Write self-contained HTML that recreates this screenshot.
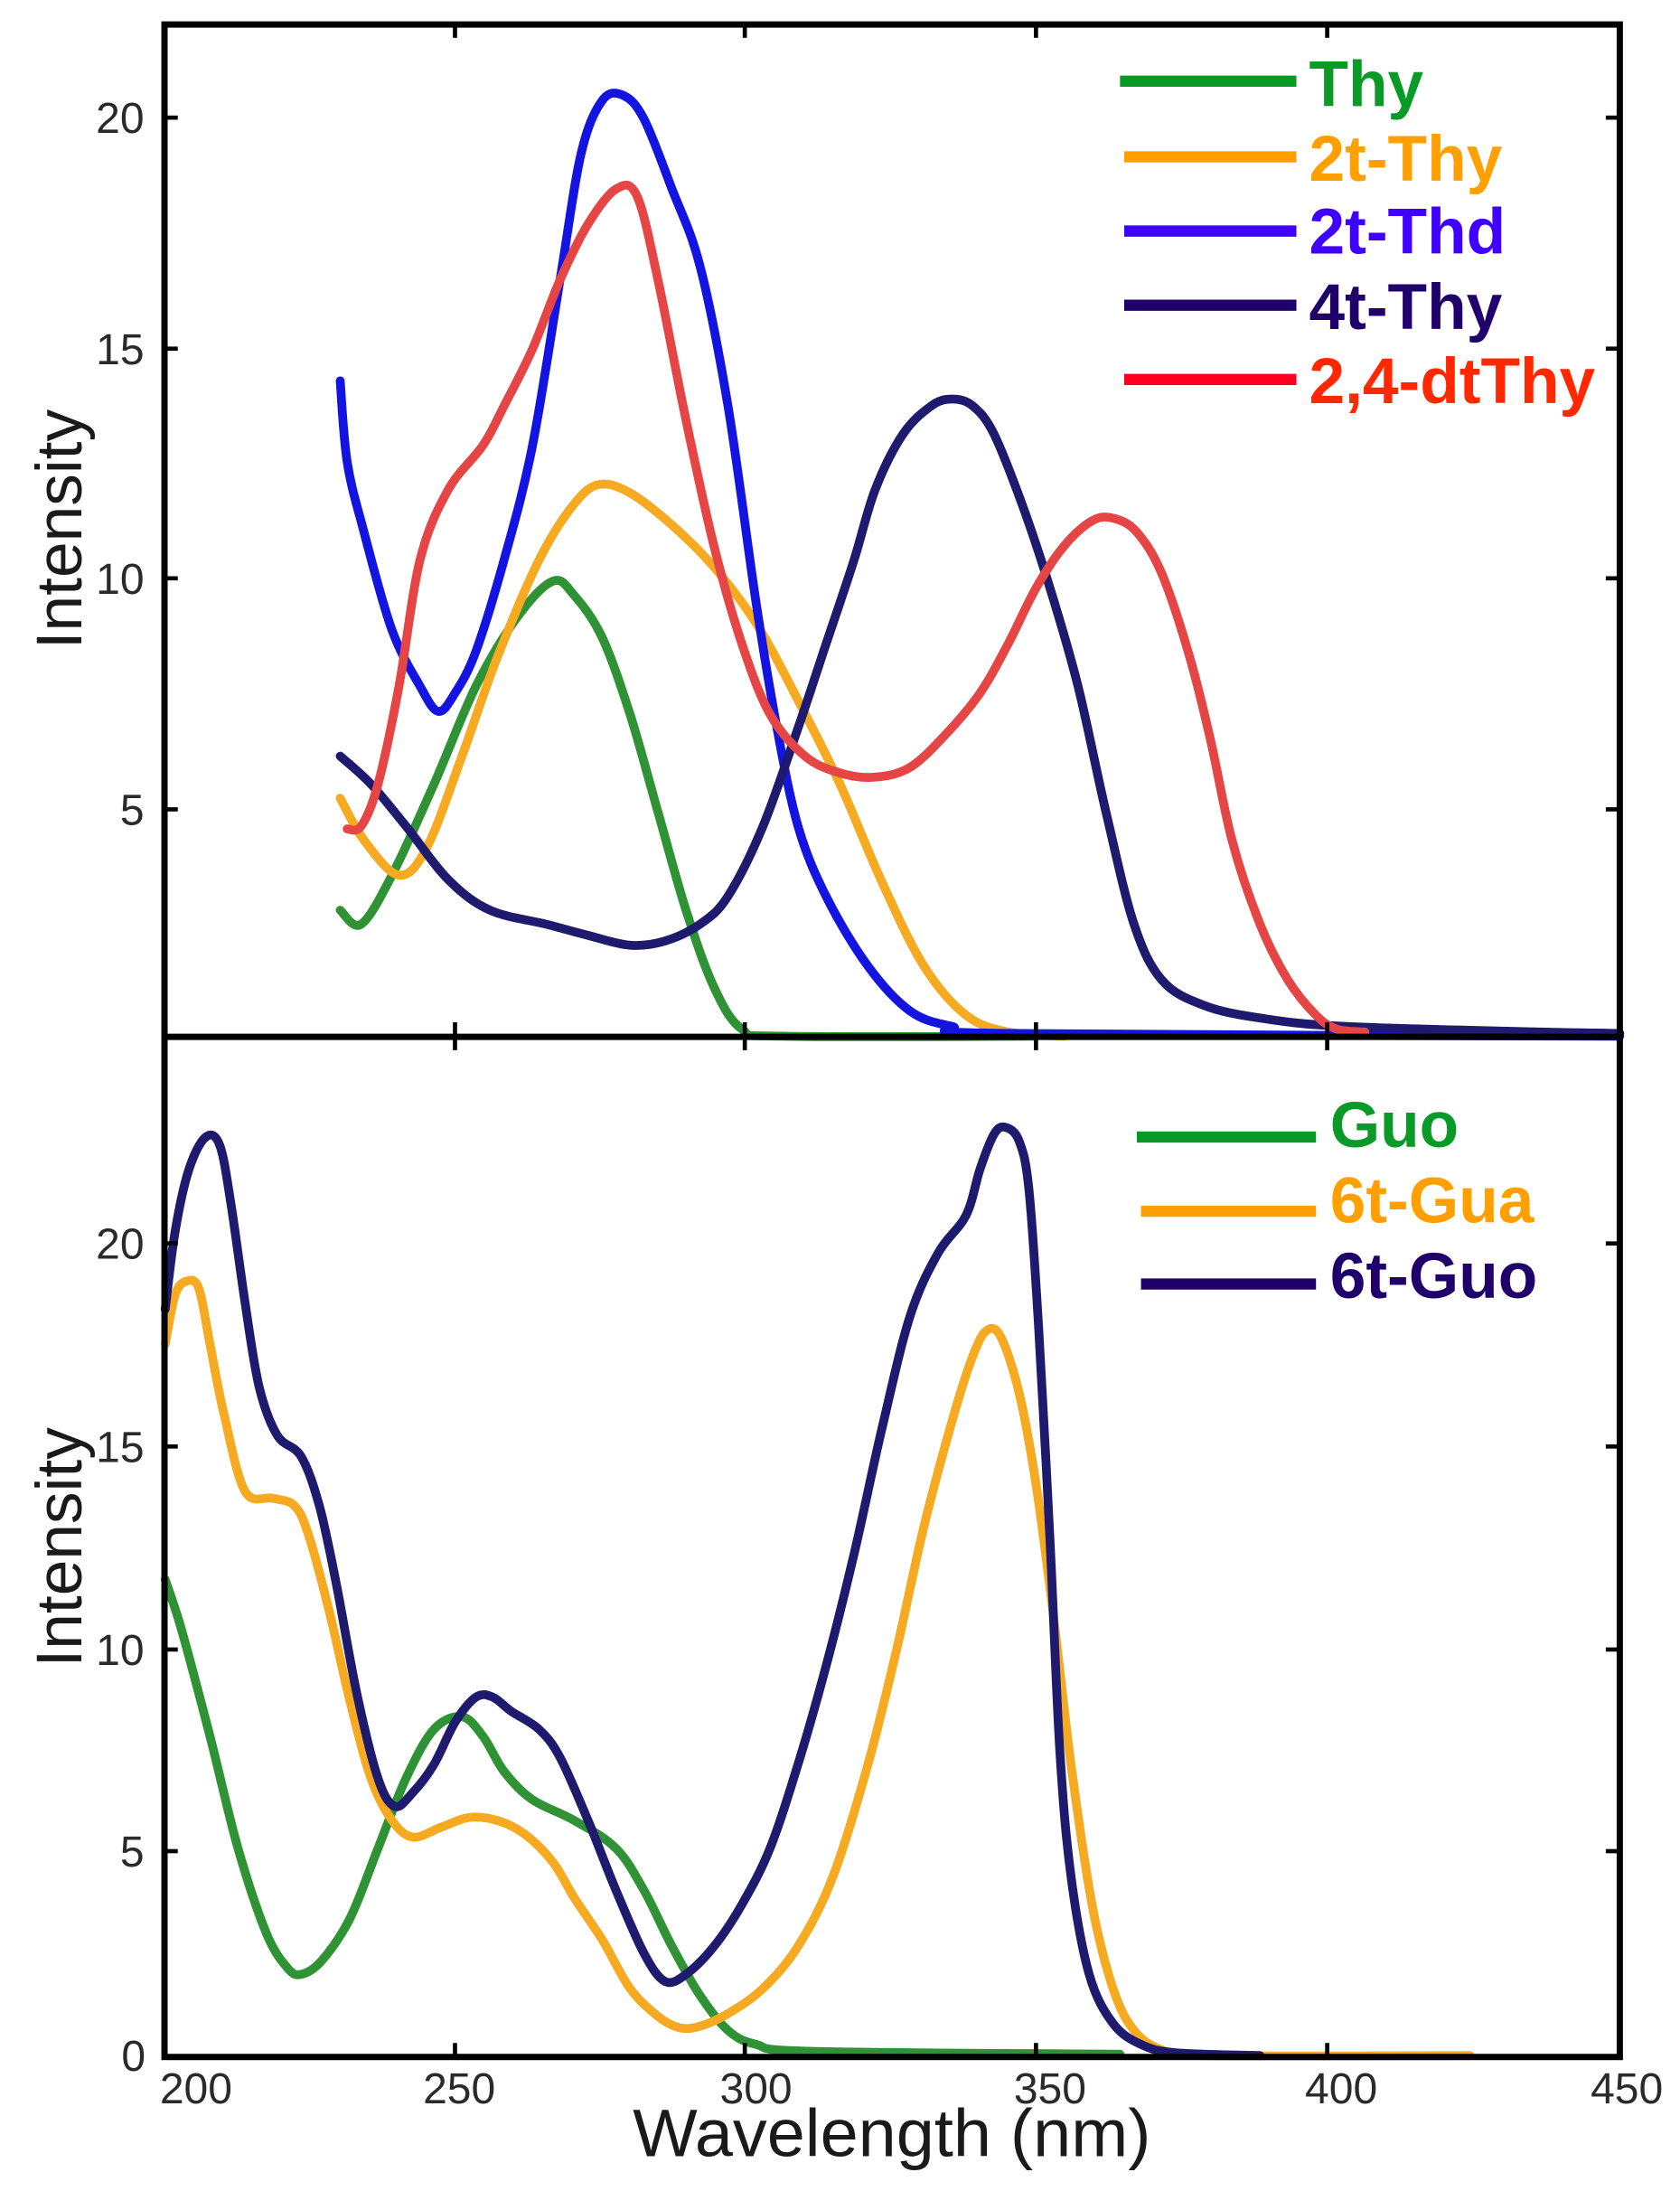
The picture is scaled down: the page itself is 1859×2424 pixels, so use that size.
<!DOCTYPE html>
<html><head><meta charset="utf-8"><style>html,body{margin:0;padding:0;background:#fff}svg{display:block}</style></head>
<body>
<svg id="s" width="1859" height="2424" viewBox="0 0 1200 1564.7" xmlns="http://www.w3.org/2000/svg">
<rect width="1200" height="1565" fill="#fff"/>
<g id="curves" fill="none" stroke-width="6.3" stroke-linejoin="round" stroke-linecap="round">
<polyline stroke="#2f9336" points="243,650 258,660 280,625 310,560 340,490 370,440 395,415 410,425 430,455 450,510 470,580 490,650 510,705 530,735 560,740 740,740"/>
<polyline stroke="#f5aa22" points="243,570 260,600 285,625 305,605 330,540 355,470 385,400 410,360 428,346 450,352 480,375 510,405 540,445 570,500 600,560 630,630 660,690 690,725 720,737 760,740"/>
<polyline stroke="#1414e0" points="243,272 248,330 260,380 280,450 300,490 313,508 325,495 340,465 360,400 380,320 400,200 415,110 430,72 445,68 460,85 480,135 500,190 520,290 540,430 555,520 570,590 590,640 620,690 650,722 680,733 720,738 1157,740"/>
<polyline stroke="#1e1a6e" points="243,540 265,560 290,590 320,628 350,650 390,660 420,668 450,675 475,672 500,660 520,640 545,590 570,520 590,460 610,400 625,350 645,310 665,290 680,285 695,290 710,310 730,360 750,420 770,490 790,580 810,660 830,700 860,718 900,727 960,733 1100,737 1157,738"/>
<polyline stroke="#e64545" points="248,592 258,590 270,560 285,490 300,400 320,350 345,318 360,290 380,250 400,200 420,160 440,135 455,140 470,200 490,300 510,390 530,460 550,510 575,540 600,552 625,555 650,548 675,525 700,495 720,460 740,420 760,390 780,372 795,370 812,380 830,410 850,470 865,530 880,600 900,660 920,700 940,725 955,735 975,737"/>
<polyline stroke="#2f9336" points="118,1128 130,1165 150,1240 170,1320 190,1380 205,1405 215,1410 230,1400 250,1370 270,1320 290,1270 310,1235 330,1226 345,1240 360,1265 380,1285 410,1300 440,1320 460,1350 480,1390 500,1425 520,1450 540,1460 580,1465 800,1467"/>
<polyline stroke="#f5aa22" points="118,960 125,925 133,915 142,920 150,960 160,1010 175,1065 195,1070 210,1075 220,1095 235,1150 250,1215 265,1270 280,1300 295,1312 315,1305 335,1298 355,1300 375,1310 395,1330 410,1355 430,1385 450,1420 470,1440 485,1448 500,1447 520,1438 545,1420 570,1390 595,1340 620,1260 640,1180 660,1090 680,1015 695,968 705,950 715,955 728,995 740,1060 752,1150 765,1260 780,1360 795,1420 810,1450 830,1464 860,1468 1050,1468"/>
<polyline stroke="#1e1a6e" points="118,935 125,880 135,835 147,812 157,818 165,860 175,930 185,990 198,1025 215,1040 228,1075 240,1130 255,1210 270,1270 282,1290 295,1280 310,1260 325,1230 340,1212 352,1212 365,1222 385,1235 400,1255 420,1300 440,1350 460,1395 475,1415 490,1410 510,1390 530,1360 550,1320 570,1260 590,1190 610,1110 630,1020 650,940 670,895 690,868 700,835 710,810 718,805 728,815 735,850 742,950 750,1100 757,1250 765,1340 778,1410 795,1445 815,1460 840,1466 900,1468"/>
</g>
<g stroke="#000" stroke-width="4.5" fill="none">
<rect x="117.5" y="17.5" width="1039.5" height="1451.5"/>
<line x1="117.5" y1="740.5" x2="1157" y2="740.5"/>
</g>
<g stroke="#000" stroke-width="3">
<line x1="117.5" y1="84" x2="127" y2="84"/><line x1="117.5" y1="249" x2="127" y2="249"/><line x1="117.5" y1="413" x2="127" y2="413"/><line x1="117.5" y1="578" x2="127" y2="578"/>
<line x1="1157" y1="84" x2="1147" y2="84"/><line x1="1157" y1="249" x2="1147" y2="249"/><line x1="1157" y1="413" x2="1147" y2="413"/><line x1="1157" y1="578" x2="1147" y2="578"/>
<line x1="117.5" y1="888" x2="127" y2="888"/><line x1="117.5" y1="1033" x2="127" y2="1033"/><line x1="117.5" y1="1178" x2="127" y2="1178"/><line x1="117.5" y1="1322" x2="127" y2="1322"/>
<line x1="1157" y1="888" x2="1147" y2="888"/><line x1="1157" y1="1033" x2="1147" y2="1033"/><line x1="1157" y1="1178" x2="1147" y2="1178"/><line x1="1157" y1="1322" x2="1147" y2="1322"/>
<line x1="325" y1="1469" x2="325" y2="1459"/><line x1="532" y1="1469" x2="532" y2="1459"/><line x1="740" y1="1469" x2="740" y2="1459"/><line x1="948" y1="1469" x2="948" y2="1459"/>
<line x1="325" y1="740" x2="325" y2="730"/><line x1="532" y1="740" x2="532" y2="730"/><line x1="740" y1="740" x2="740" y2="730"/><line x1="948" y1="740" x2="948" y2="730"/>
<line x1="325" y1="740" x2="325" y2="750"/><line x1="532" y1="740" x2="532" y2="750"/><line x1="740" y1="740" x2="740" y2="750"/><line x1="948" y1="740" x2="948" y2="750"/>
<line x1="325" y1="17.5" x2="325" y2="27"/><line x1="532" y1="17.5" x2="532" y2="27"/><line x1="740" y1="17.5" x2="740" y2="27"/><line x1="948" y1="17.5" x2="948" y2="27"/>
</g>
<g font-family="Liberation Sans, sans-serif" font-size="31" fill="#2a2a2a" text-anchor="end">
<text x="103" y="95">20</text><text x="103" y="260">15</text><text x="103" y="424">10</text><text x="103" y="589">5</text>
<text x="103" y="899">20</text><text x="103" y="1044">15</text><text x="103" y="1189">10</text><text x="103" y="1333">5</text><text x="104" y="1479">0</text>
</g>
<g font-family="Liberation Sans, sans-serif" font-size="31" fill="#2a2a2a" text-anchor="middle">
<text x="140" y="1502">200</text><text x="328" y="1502">250</text><text x="540" y="1502">300</text><text x="750" y="1502">350</text><text x="958" y="1502">400</text><text x="1162" y="1502">450</text>
</g>
<g font-family="Liberation Sans, sans-serif" font-size="46" fill="#1a1a1a" text-anchor="middle">
<text transform="translate(58,378) rotate(-90)">Intensity</text>
<text transform="translate(58,1105) rotate(-90)">Intensity</text>
<text x="637" y="1540" font-size="48" textLength="370" lengthAdjust="spacingAndGlyphs">Wavelength (nm)</text>
</g>
<g stroke-width="8">
<line x1="800" y1="58" x2="926" y2="58" stroke="#069a24"/>
<line x1="803" y1="112" x2="926" y2="112" stroke="#ffa000"/>
<line x1="803" y1="165" x2="926" y2="165" stroke="#4000ff"/>
<line x1="803" y1="218" x2="926" y2="218" stroke="#20006a"/>
<line x1="803" y1="271" x2="926" y2="271" stroke="#ff0020"/>
<line x1="812" y1="812" x2="940" y2="812" stroke="#069a24"/>
<line x1="815" y1="865" x2="940" y2="865" stroke="#ffa000"/>
<line x1="815" y1="917" x2="940" y2="917" stroke="#20006a"/>
</g>
<g font-family="Liberation Sans, sans-serif" font-size="46" font-weight="bold">
<text x="935" y="76" fill="#0a9a28">Thy</text>
<text x="935" y="129" fill="#ffa000">2t-Thy</text>
<text x="935" y="181" fill="#4000ff">2t-Thd</text>
<text x="935" y="235" fill="#20006a">4t-Thy</text>
<text x="935" y="288" fill="#ff2800">2,4-dtThy</text>
<text x="950" y="819" fill="#0a9a28">Guo</text>
<text x="950" y="873" fill="#ffa000">6t-Gua</text>
<text x="950" y="927" fill="#20006a">6t-Guo</text>
</g>
</svg>
<script>
(function(){
var NS="http://www.w3.org/2000/svg";
var pls=document.querySelectorAll('#curves polyline');
for(var k=0;k<pls.length;k++){
var pl=pls[k];
var p=pl.getAttribute('points').trim().split(/\s+/).map(function(s){return s.split(',').map(Number);});
var d='M'+p[0][0]+','+p[0][1];
for(var i=0;i<p.length-1;i++){
var p0=p[i>0?i-1:0],p1=p[i],p2=p[i+1],p3=p[i+2<p.length?i+2:i+1];
var c1x=p1[0]+(p2[0]-p0[0])/6,c1y=p1[1]+(p2[1]-p0[1])/6;
var c2x=p2[0]-(p3[0]-p1[0])/6,c2y=p2[1]-(p3[1]-p1[1])/6;
d+=' C'+c1x.toFixed(1)+','+c1y.toFixed(1)+' '+c2x.toFixed(1)+','+c2y.toFixed(1)+' '+p2[0]+','+p2[1];
}
var path=document.createElementNS(NS,'path');
path.setAttribute('d',d);
path.setAttribute('stroke',pl.getAttribute('stroke'));
pl.parentNode.replaceChild(path,pl);
}
})();
</script>
</body></html>
